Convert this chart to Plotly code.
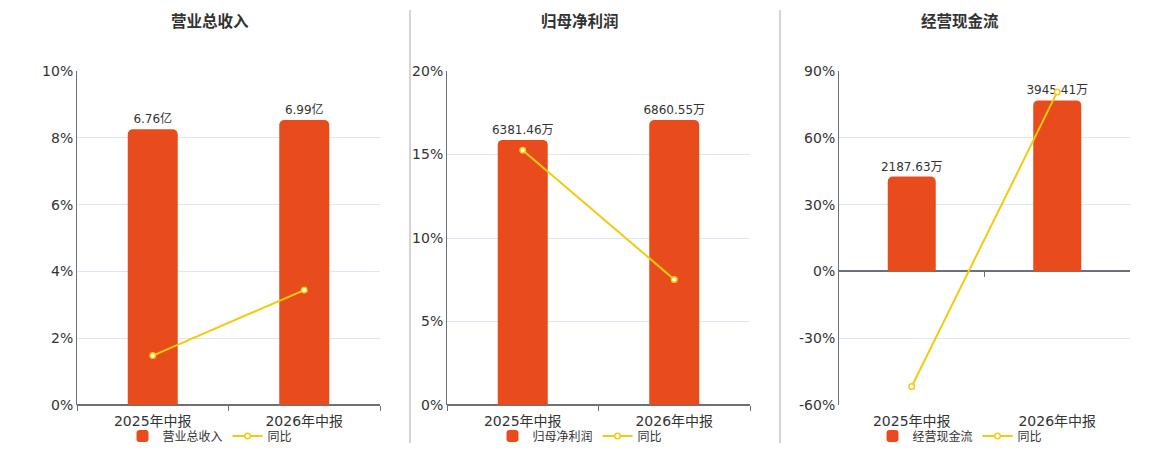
import plotly.graph_objects as go

categories = ["2025年中报", "2026年中报"]
titles = ["营业总收入", "归母净利润", "经营现金流"]
bar_values = [[6.76, 6.99], [6381.46, 6860.55], [2187.63, 3945.41]]
bar_labels = [["6.76亿", "6.99亿"], ["6381.46万", "6860.55万"], ["2187.63万", "3945.41万"]]
yoy_values = [[1.48, 3.44], [15.25, 7.52], [-51.7, 80.6]]
pct_ranges = [[0, 10], [0, 20], [-60, 90]]
pct_ticks = [[0, 2, 4, 6, 8, 10], [0, 5, 10, 15, 20], [-60, -30, 0, 30, 60, 90]]
bar_ranges = [[0, 8.19], [0, 8040], [-3082, 4624]]

W, H = 1160, 450
BAR_COLOR = "#E84C1D"
LINE_COLOR = "#F2CB0F"
AXIS_COLOR = "#6E7079"
FONT = "DejaVu Sans, Noto Sans CJK SC, sans-serif"

x_px = [(77, 380), (447, 750), (839, 1130)]
centers_px = [210, 580, 960]
y_dom = [1 - 405 / H, 1 - 71 / H]

fig = go.Figure()
layout = dict(
    width=W, height=H,
    margin=dict(l=0, r=0, t=0, b=0, autoexpand=False),
    paper_bgcolor="white", plot_bgcolor="white",
    font=dict(family=FONT, color="#333333", size=12),
    showlegend=True,
    barcornerradius=5,
)
annotations = []
shapes = []

for i in range(3):
    n = i + 1
    xa = "x" if n == 1 else f"x{n}"
    ybar = f"y{2 * i + 1}" if i > 0 else "y"
    ypct = f"y{2 * i + 2}"
    legend_name = "legend" if n == 1 else f"legend{n}"

    fig.add_trace(go.Bar(
        x=categories, y=bar_values[i], name=titles[i],
        xaxis=xa, yaxis=ybar,
        marker=dict(color=BAR_COLOR, line=dict(width=0)),
        width=0.33,
        text=bar_labels[i], textposition="outside",
        textfont=dict(size=12, color="#333333"),
        constraintext="none",
        cliponaxis=False,
        legend=legend_name,
    ))
    fig.add_trace(go.Scatter(
        x=categories, y=yoy_values[i], name="同比",
        xaxis=xa, yaxis=ypct,
        mode="lines+markers",
        line=dict(color=LINE_COLOR, width=2),
        marker=dict(size=5.5, color="white", line=dict(color=LINE_COLOR, width=1.5)),
        cliponaxis=False,
        legend=legend_name,
    ))

    xdom = [x_px[i][0] / W, x_px[i][1] / W]
    xkey = "xaxis" if n == 1 else f"xaxis{n}"
    ybkey = "yaxis" if i == 0 else f"yaxis{2 * i + 1}"
    ypkey = f"yaxis{2 * i + 2}"
    has_neg = pct_ranges[i][0] < 0
    layout[xkey] = dict(
        domain=xdom, anchor=ypct,
        type="category",
        showline=False, showgrid=False, zeroline=False,
        ticks="" if has_neg else "outside", tickson="boundaries",
        ticklen=5, tickcolor=AXIS_COLOR, tickwidth=1,
        ticklabelstandoff=6,
        tickfont=dict(size=14, color="#333333"),
        fixedrange=True,
    )
    layout[ybkey] = dict(
        domain=y_dom, anchor=xa, range=bar_ranges[i],
        visible=False, showgrid=False, zeroline=False, fixedrange=True,
    )
    layout[ypkey] = dict(
        domain=y_dom, anchor=xa, overlaying=ybar, side="left",
        range=pct_ranges[i], tickvals=pct_ticks[i],
        ticktext=[f"{v}%" for v in pct_ticks[i]],
        showgrid=True, gridcolor="#E0E6F1", gridwidth=1,
        showline=True, linecolor=AXIS_COLOR, linewidth=1,
        zeroline=True, zerolinecolor=AXIS_COLOR, zerolinewidth=2,
        ticks="", tickfont=dict(size=14, color="#333333"),
        fixedrange=True,
    )
    if has_neg:
        # tick marks on the zero line (category boundaries)
        lo, hi = pct_ranges[i]
        zero_pos = y_dom[0] + (0 - lo) / (hi - lo) * (y_dom[1] - y_dom[0])
        layout["xaxis7"] = dict(
            overlaying=xa, anchor="free", position=zero_pos,
            type="category", showline=False, showgrid=False, zeroline=False,
            ticks="outside", tickson="boundaries", ticklen=5,
            tickcolor=AXIS_COLOR, tickwidth=1, showticklabels=False,
            fixedrange=True,
        )
        fig.add_trace(go.Scatter(
            x=categories, y=[None, None], xaxis="x7", yaxis=ypct,
            mode="lines", showlegend=False, hoverinfo="skip",
        ))
    layout[legend_name] = dict(
        orientation="h", x=centers_px[i] / W, xanchor="center",
        yref="container", y=(H - 436) / H, yanchor="middle",
        font=dict(size=12, color="#333333"),
        bgcolor="rgba(0,0,0,0)", itemwidth=30, tracegroupgap=0,
    )
    annotations.append(dict(
        text=f"<b>{titles[i]}</b>", x=centers_px[i] / W, y=1 - 22 / H,
        xref="paper", yref="paper", xanchor="center", yanchor="middle",
        showarrow=False, font=dict(size=15.5, color="#333333"),
    ))

for xs in (410, 780):
    shapes.append(dict(type="line", xref="paper", yref="paper",
                       x0=xs / W, x1=xs / W, y0=1 - 443 / H, y1=1 - 10 / H,
                       line=dict(color="#AAAAAA", width=1)))

layout["annotations"] = annotations
layout["shapes"] = shapes
fig.update_layout(**layout)
fig.write_html(
    "out.html",
    config={"displayModeBar": False},
    post_script="document.body.style.margin='0';document.body.style.overflow='hidden';",
)
